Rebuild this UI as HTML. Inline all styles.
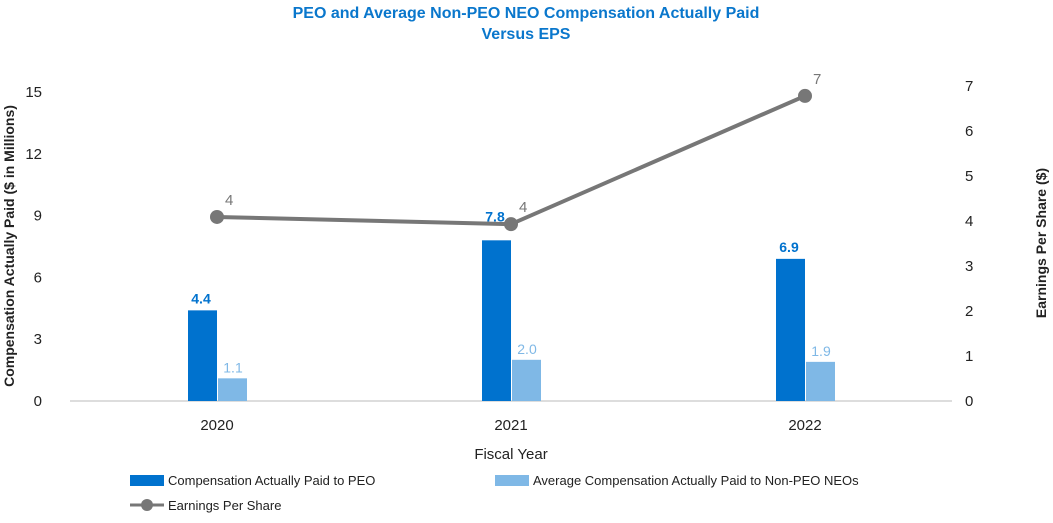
<!DOCTYPE html>
<html><head><meta charset="utf-8"><style>
body{margin:0;background:#fff;font-family:"Liberation Sans",Arial,sans-serif}
svg text{font-family:"Liberation Sans",Arial,sans-serif}
</style></head><body>
<svg id="chart" width="1053" height="518" viewBox="0 0 1053 518">
<text x="526" y="18" text-anchor="middle" font-size="16" font-weight="bold" fill="#0a77cc">PEO and Average Non-PEO NEO Compensation Actually Paid</text>
<text x="526" y="39" text-anchor="middle" font-size="16" font-weight="bold" fill="#0a77cc">Versus EPS</text>
<text transform="translate(14,246) rotate(-90)" text-anchor="middle" font-size="14" font-weight="bold" fill="#222">Compensation Actually Paid ($ in Millions)</text>
<text transform="translate(1046,243) rotate(-90)" text-anchor="middle" font-size="14" font-weight="bold" fill="#222">Earnings Per Share ($)</text>
<text x="511" y="459" text-anchor="middle" font-size="15" fill="#222">Fiscal Year</text>
<line x1="70" y1="401" x2="952" y2="401" stroke="#bbb" stroke-width="1"/>
<g id="g"></g>
<g>
<rect x="130" y="475" width="34" height="11" fill="#0072ce"/>
<text x="168" y="485" font-size="13" fill="#222">Compensation Actually Paid to PEO</text>
<rect x="495" y="475" width="34" height="11" fill="#7fb8e6"/>
<text x="533" y="485" font-size="13" fill="#222">Average Compensation Actually Paid to Non-PEO NEOs</text>
<line x1="130" y1="505" x2="164" y2="505" stroke="#777" stroke-width="3"/>
<circle cx="147" cy="505" r="6" fill="#777"/>
<text x="168" y="510" font-size="13" fill="#222">Earnings Per Share</text>
</g>
</svg>
<script>
const categories=["2020","2021","2022"];
const peoValues=[4.4,7.8,6.9];
const neoValues=[1.1,2.0,1.9];
const epsValues=[4.09,3.93,6.78];
const epsLabels=["4","4","7"];
const leftTicks=[0,3,6,9,12,15];
const rightTicks=[0,1,2,3,4,5,6,7];
const NS="http://www.w3.org/2000/svg";
const g=document.getElementById('g');
const yL=v=>401-v*20.6;
const yR=v=>401-v*45;
const xC=i=>70+294*(i+0.5);
function mk(t,a,txt){const e=document.createElementNS(NS,t);for(const k in a)e.setAttribute(k,a[k]);if(txt!==undefined)e.textContent=txt;g.appendChild(e);return e;}
leftTicks.forEach(t=>{const e=mk('text',{x:42,y:yL(t)+5,'text-anchor':'end','font-size':15,fill:'#222'},t);

});
rightTicks.forEach(t=>{const e=mk('text',{x:965,y:yR(t)+5,'font-size':15,fill:'#222'},t);

});
categories.forEach((c,i)=>{const x=xC(i);
const e=mk('text',{x:x,y:430,'text-anchor':'middle','font-size':15,fill:'#222'},c);


const b1=mk('rect',{x:x-29,y:yL(peoValues[i]),width:29,height:401-yL(peoValues[i]),fill:'#0072ce'});


const off=(i===1)?19:7;
const l1=mk('text',{x:x-16,y:yL(peoValues[i])-off,'text-anchor':'middle','font-size':14,'font-weight':'bold',fill:'#0072ce'},peoValues[i].toFixed(1));


const b2=mk('rect',{x:x+1,y:yL(neoValues[i]),width:29,height:401-yL(neoValues[i]),fill:'#7fb8e6'});


const l2=mk('text',{x:x+16,y:yL(neoValues[i])-6,'text-anchor':'middle','font-size':14,fill:'#7fb8e6'},neoValues[i].toFixed(1));

});
const pl=mk('polyline',{points:epsValues.map((v,i)=>xC(i)+','+yR(v)).join(' '),fill:'none',stroke:'#777','stroke-width':4});


epsValues.forEach((v,i)=>{const c=mk('circle',{cx:xC(i),cy:yR(v),r:7,fill:'#777'});


const t=mk('text',{x:xC(i)+8,y:yR(v)-12,'font-size':15,fill:'#777'},epsLabels[i]);

});
</script>
</body></html>
